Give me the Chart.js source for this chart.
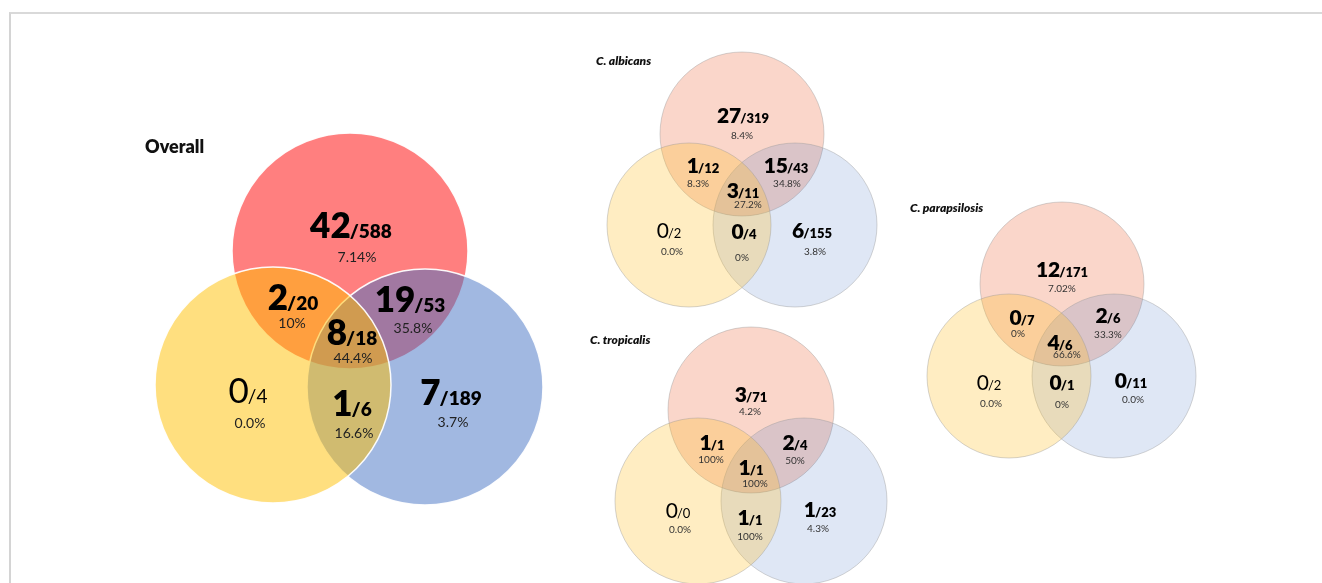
<!DOCTYPE html>
<html lang="en">
<head>
    <meta charset="UTF-8">
    <title>Venn - Overall and by species</title>
    <script src="https://cdn.jsdelivr.net/npm/chart.js"></script>
    <style>
        html, body { margin: 0; padding: 0; background: #fff; }
        #wrap { position: relative; width: 1322px; height: 583px; overflow: hidden; }
        #frame { position: absolute; left: 9px; top: 12px; right: -2px; bottom: -2px;
                 border-top: 2px solid #d9d9d9; border-left: 2px solid #d4d4d4; }
        canvas { position: absolute; left: 0; top: 0; }
    </style>
</head>
<body>
<div id="wrap">
    <div id="frame"></div>
    <canvas id="venn" width="1322" height="583"></canvas>
</div>
<script>
    // Los cuatro diagramas
    const panels = ['Overall', 'C. albicans', 'C. tropicalis', 'C. parapsilosis'];
    // regiones: R, RY, RB, RYB, Y, YB, B
    const overallPos = [42, 2, 19, 8, 0, 1, 7];
    const overallTot = [588, 20, 53, 18, 4, 6, 189];
    const overallPct = ['7.14%', '10%', '35.8%', '44.4%', '0.0%', '16.6%', '3.7%'];

    const albicansPos = [27, 1, 15, 3, 0, 0, 6];
    const albicansTot = [319, 12, 43, 11, 2, 4, 155];
    const albicansPct = ['8.4%', '8.3%', '34.8%', '27.2%', '0.0%', '0%', '3.8%'];

    const tropicalisPos = [3, 1, 2, 1, 0, 1, 1];
    const tropicalisTot = [71, 1, 4, 1, 0, 1, 23];
    const tropicalisPct = ['4.2%', '100%', '50%', '100%', '0.0%', '100%', '4.3%'];

    const parapsilosisPos = [12, 0, 2, 4, 0, 0, 0];
    const parapsilosisTot = [171, 7, 6, 6, 2, 1, 11];
    const parapsilosisPct = ['7.02%', '0%', '33.3%', '66.6%', '0.0%', '0%', '0.0%'];

    // Layout (en unidades de la escala = pixeles)
    const redCircles = [{x: 350, y: 251, r: 118}, {x: 742, y: 134, r: 82}, {x: 751, y: 410, r: 83}, {x: 1062, y: 284, r: 82}];
    const yellowCircles = [{x: 273, y: 385, r: 118}, {x: 689, y: 225, r: 82}, {x: 698, y: 501, r: 83}, {x: 1009, y: 376, r: 82}];
    const blueCircles = [{x: 425, y: 387, r: 118}, {x: 795, y: 225, r: 82}, {x: 804, y: 501, r: 83}, {x: 1114, y: 376, r: 82}];

    const titlePos = [[145, 153], [596, 65], [590, 344], [910, 212]];
    // [x, baseline cuenta, x pct, baseline pct]
    const labelPos = [
        [[351, 238, 357, 262], [293, 310, 292, 328], [410, 312, 413, 333], [352, 345, 353, 363], [248, 403, 250, 428], [352, 416, 354, 438], [451, 405, 453, 427]],
        [[743, 123, 742, 139], [703, 173, 698, 187], [786, 173, 787, 187], [743, 198, 748, 208], [669, 238, 672, 255], [744, 239, 742, 261], [812, 238, 815, 255]],
        [[751, 402, 750, 415], [712, 450, 711, 463], [795, 450, 795, 464], [751, 475, 755, 487], [678, 518, 680, 533], [750, 525, 750, 540], [820, 517, 818, 532]],
        [[1062, 277, 1062, 292], [1022, 325, 1018, 337], [1108, 323, 1108, 338], [1060, 350, 1067, 358], [989, 390, 991, 407], [1062, 390, 1062, 408], [1131, 388, 1133, 403]]
    ];

    const posData = [overallPos, albicansPos, tropicalisPos, parapsilosisPos];
    const totData = [overallTot, albicansTot, tropicalisTot, parapsilosisTot];
    const pctData = [overallPct, albicansPct, tropicalisPct, parapsilosisPct];

    const FONT = "Lato, 'Liberation Sans', sans-serif";

    // Plugin para los textos
    const vennLabels = {
        id: 'vennLabels',
        afterDatasetsDraw(chart) {
            const ctx = chart.ctx;
            const xs = chart.scales.x, ys = chart.scales.y;
            ctx.save();
            ctx.textBaseline = 'alphabetic';

            panels.forEach((name, p) => {
                const big = p === 0;
                ctx.textAlign = 'left';
                ctx.font = big ? '800 18px ' + FONT : 'italic 800 12px ' + FONT;
                ctx.fillStyle = '#111';
                ctx.fillText(name, xs.getPixelForValue(titlePos[p][0]), ys.getPixelForValue(titlePos[p][1]));

                labelPos[p].forEach((pos, i) => {
                    const light = i === 4; // region solo amarilla
                    const w = light ? '400 ' : '800 ';
                    const f1 = w + (big ? '35px ' : '21px ') + FONT;
                    const f2 = w + (big ? '19px ' : '13px ') + FONT;
                    const s1 = String(posData[p][i]);
                    const s2 = '/' + totData[p][i];
                    const gap = -1;
                    ctx.font = f1;
                    const w1 = ctx.measureText(s1).width;
                    ctx.font = f2;
                    const w2 = ctx.measureText(s2).width;
                    const cx = xs.getPixelForValue(pos[0]);
                    const by = ys.getPixelForValue(pos[1]);
                    const x0 = cx - (w1 + w2 + gap) / 2;
                    ctx.textAlign = 'left';
                    ctx.fillStyle = '#000';
                    ctx.font = f1;
                    ctx.fillText(s1, x0, by);
                    ctx.font = f2;
                    ctx.fillText(s2, x0 + w1 + gap, by);

                    ctx.textAlign = 'center';
                    ctx.fillStyle = big ? '#222' : '#333';
                    ctx.font = (big ? '14px ' : '10px ') + FONT;
                    ctx.fillText(pctData[p][i], xs.getPixelForValue(pos[2]), ys.getPixelForValue(pos[3]));
                });
            });
            ctx.restore();
        }
    };

    const strongFill = ['rgba(255,0,0,0.5)', 'rgba(255,192,0,0.5)', 'rgba(68,114,196,0.5)'];
    const softFill = ['rgba(240,120,80,0.3)', 'rgba(255,188,30,0.27)', 'rgba(68,114,196,0.17)'];

    function fills(k) {
        return panels.map((n, p) => p === 0 ? strongFill[k] : softFill[k]);
    }
    const borders = panels.map((n, p) => p === 0 ? 'rgba(255,255,255,0.95)' : 'rgba(150,150,150,0.4)');
    const borderW = panels.map((n, p) => p === 0 ? 1.5 : 1);

    new Chart(document.getElementById('venn'), {
        type: 'bubble',
        data: {
            datasets: [
                {label: 'Rojo', data: redCircles, backgroundColor: fills(0), borderColor: borders, borderWidth: borderW, order: 2},
                {label: 'Azul', data: blueCircles, backgroundColor: fills(2), borderColor: borders, borderWidth: borderW, order: 1},
                {label: 'Amarillo', data: yellowCircles, backgroundColor: fills(1), borderColor: borders, borderWidth: borderW, order: 0}
            ]
        },
        options: {
            responsive: false,
            animation: false,
            events: [],
            layout: { padding: 0, autoPadding: false },
            plugins: { legend: { display: false }, tooltip: { enabled: false } },
            scales: {
                x: { type: 'linear', min: 0, max: 1322, display: false },
                y: { type: 'linear', min: 0, max: 583, reverse: true, display: false }
            }
        },
        plugins: [vennLabels]
    });
</script>
</body>
</html>
